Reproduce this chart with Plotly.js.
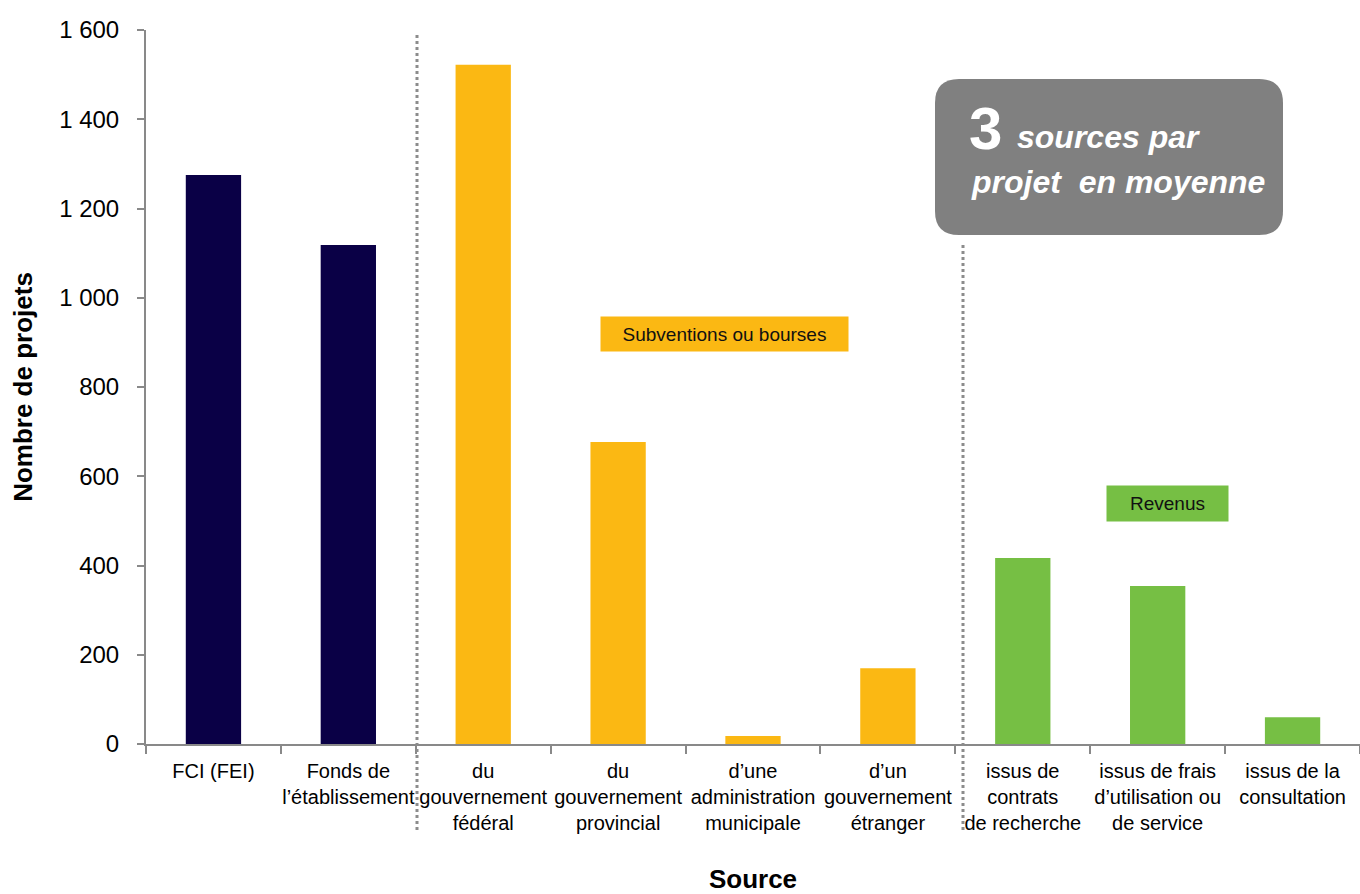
<!DOCTYPE html>
<html>
<head>
<meta charset="utf-8">
<script src="https://cdn.plot.ly/plotly-3.0.1.min.js"></script>
<style>html,body{margin:0;padding:0;background:#fff;}#chart{width:1360px;height:894px;}</style>
</head>
<body>
<div id="chart"></div>
<script>
// ---- data ----
const categories = [
  "FCI (FEI)",
  "Fonds de<br>l\u2019établissement",
  "du<br>gouvernement<br>fédéral",
  "du<br>gouvernement<br>provincial",
  "d\u2019une<br>administration<br>municipale",
  "d\u2019un<br>gouvernement<br>étranger",
  "issus de<br>contrats<br>de recherche",
  "issus de frais<br>d\u2019utilisation ou<br>de service",
  "issus de la<br>consultation"
];
const values = [1275, 1118, 1522, 677, 18, 170, 417, 354, 60];
const barColors = ["#0A0046","#0A0046","#FBB813","#FBB813","#FBB813","#FBB813","#76BF44","#76BF44","#76BF44"];
const yTicks = [0, 200, 400, 600, 800, 1000, 1200, 1400, 1600];
const groupLabels = ["Subventions ou bourses", "Revenus"];
const calloutNumber = "3";
const calloutLine1 = "sources par";
const calloutLine2 = "projet&nbsp;&nbsp;en moyenne";

// ---- layout helpers (pixel -> paper) ----
const L = 146, R = 1360, T = 30, B = 744;
const px = x => (x - L) / (R - L);
const py = y => (B - y) / (B - T);

function roundRect(x0, y0, x1, y1, r) {
  const rx = r / (R - L), ry = r / (B - T);
  const a = px(x0), b = px(x1), top = py(y0), bot = py(y1);
  return `M ${a+rx},${top} L ${b-rx},${top} Q ${b},${top} ${b},${top-ry} L ${b},${bot+ry} Q ${b},${bot} ${b-rx},${bot} L ${a+rx},${bot} Q ${a},${bot} ${a},${bot+ry} L ${a},${top-ry} Q ${a},${top} ${a+rx},${top} Z`;
}

const arial = 'Liberation Sans, Arial, sans-serif';

const trace = {
  type: 'bar',
  x: categories,
  y: values,
  marker: {color: barColors},
  hoverinfo: 'x+y'
};

const layout = {
  width: 1360, height: 894,
  margin: {l: L, r: 0, t: T, b: 894 - B},
  paper_bgcolor: '#fff', plot_bgcolor: '#fff',
  showlegend: false,
  bargap: 0.59,
  separators: '. ',
  font: {family: arial, color: '#000'},
  xaxis: {
    type: 'category',
    tickson: 'boundaries',
    ticks: 'outside', ticklen: 8, tickwidth: 2, tickcolor: '#898989',
    showline: true, linecolor: '#898989', linewidth: 2,
    showgrid: false, zeroline: false,
    tickfont: {family: arial, size: 20, color: '#000'},
    tickangle: 0,
    ticklabelstandoff: 8,
    title: {text: '<b>Source</b>', font: {family: arial, size: 26, color: '#000'}, standoff: 42},
    automargin: false
  },
  yaxis: {
    range: [0, 1600],
    tickvals: yTicks,
    tickformat: ',d',
    ticks: 'outside', ticklen: 7, tickwidth: 2, tickcolor: '#898989',
    showline: true, linecolor: '#898989', linewidth: 2,
    showgrid: false, zeroline: false,
    tickfont: {family: arial, size: 24, color: '#000'},
    ticklabelstandoff: 13,
    title: {text: '<b>Nombre de projets</b>', font: {family: arial, size: 26, color: '#000'}, standoff: 19},
    automargin: false
  },
  shapes: [
    {type: 'line', xref: 'paper', yref: 'paper', x0: px(417), x1: px(417), y0: py(35), y1: py(832),
     line: {color: '#8C8C8C', width: 3, dash: 'dot'}},
    {type: 'line', xref: 'paper', yref: 'paper', x0: px(963), x1: px(963), y0: py(245), y1: py(832),
     line: {color: '#8C8C8C', width: 3, dash: 'dot'}},
    {type: 'path', xref: 'paper', yref: 'paper', path: roundRect(935, 79, 1283, 235, 24),
     fillcolor: '#808080', line: {width: 0}}
  ],
  annotations: [
    {xref: 'paper', yref: 'paper', x: px(600), y: py(334), xanchor: 'left', yanchor: 'middle',
     text: groupLabels[0], showarrow: false, bgcolor: '#FBB813',
     font: {family: arial, size: 19, color: '#111'}, width: 239, height: 26, borderpad: 4, align: 'center'},
    {xref: 'paper', yref: 'paper', x: px(1106), y: py(503), xanchor: 'left', yanchor: 'middle',
     text: groupLabels[1], showarrow: false, bgcolor: '#76BF44',
     font: {family: arial, size: 19, color: '#111'}, width: 113, height: 27, borderpad: 4, align: 'center'},
    {xref: 'paper', yref: 'paper', x: px(967), y: py(129), xanchor: 'left', yanchor: 'middle',
     text: '<b>' + calloutNumber + '</b>', showarrow: false,
     font: {family: arial, size: 60, color: '#fff'}},
    {xref: 'paper', yref: 'paper', x: px(1015), y: py(137), xanchor: 'left', yanchor: 'middle',
     text: '<b><i>' + calloutLine1 + '</i></b>', showarrow: false,
     font: {family: arial, size: 32, color: '#fff'}},
    {xref: 'paper', yref: 'paper', x: px(969), y: py(182), xanchor: 'left', yanchor: 'middle',
     text: '<b><i>' + calloutLine2 + '</i></b>', showarrow: false,
     font: {family: arial, size: 32, color: '#fff'}}
  ]
};

Plotly.newPlot('chart', [trace], layout, {displayModeBar: false, staticPlot: true});
</script>
</body>
</html>
